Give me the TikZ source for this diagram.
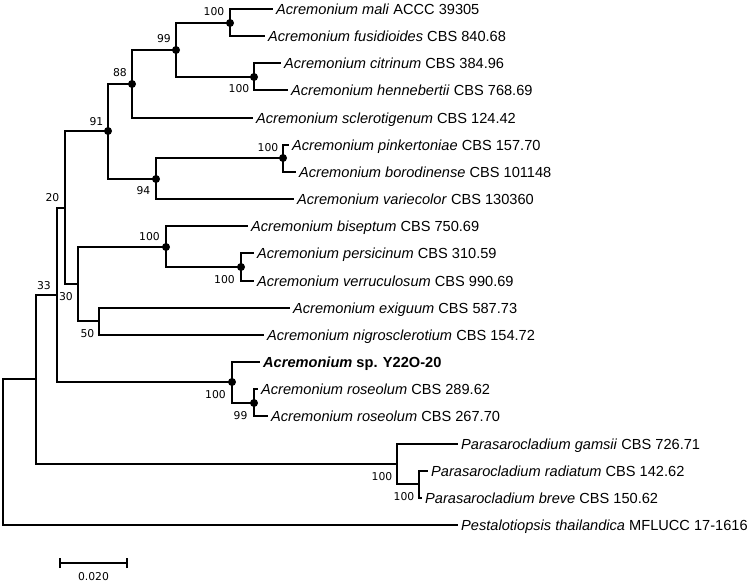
\documentclass[tikz,border=0pt]{standalone}
\usepackage{fontspec}
\setmainfont{Liberation Sans}
\newfontfamily\bsfont{DejaVu Sans}
\begin{document}
\begin{tikzpicture}[x=1pt,y=-1pt,
  branch/.style={line width=1.8pt, line cap=rect},
  leaf/.style={anchor=west, inner xsep=4pt, inner ysep=0pt, text height=10.5pt, text depth=0pt, font=\fontsize{14.6}{16}\selectfont},
  bs/.style={inner sep=0pt, font=\bsfont\fontsize{10.8}{12}\selectfont},
  dotmark/.style={fill=black}
]
\useasboundingbox (0,0) rectangle (755,587);
% internal nodes
\coordinate (R)    at (3,452);
\coordinate (n33)  at (36,379);
\coordinate (n30)  at (57,295);
\coordinate (n20)  at (65,208);
\coordinate (n91)  at (108,131);
\coordinate (n88)  at (132,84);
\coordinate (n99)  at (176,50);
\coordinate (nA)   at (230,23);
\coordinate (nC)   at (254,77);
\coordinate (n94)  at (156,179);
\coordinate (nP)   at (283,158);
\coordinate (nB)   at (78,284);
\coordinate (nBi)  at (166,247);
\coordinate (nPV)  at (241,267);
\coordinate (n50)  at (99,321);
\coordinate (nSp)  at (232,382);
\coordinate (nR)   at (254,403);
\coordinate (nPa)  at (397,464);
\coordinate (nRB)  at (419,484);
% leaves
\node[leaf] (l1)  at (272,9)   {\textit{Acremonium mali} ACCC 39305};
\node[leaf] (l2)  at (264,36)  {\textit{Acremonium fusidioides} CBS 840.68};
\node[leaf] (l3)  at (280,63)  {\textit{Acremonium citrinum} CBS 384.96};
\node[leaf] (l4)  at (287,90)  {\textit{Acremonium hennebertii} CBS 768.69};
\node[leaf] (l5)  at (252,118) {\textit{Acremonium sclerotigenum} CBS 124.42};
\node[leaf] (l6)  at (288,145) {\textit{Acremonium pinkertoniae} CBS 157.70};
\node[leaf] (l7)  at (295,172) {\textit{Acremonium borodinense} CBS 101148};
\node[leaf] (l8)  at (293,199) {\textit{Acremonium variecolor} CBS 130360};
\node[leaf] (l9)  at (247,226) {\textit{Acremonium biseptum} CBS 750.69};
\node[leaf] (l10) at (253,253) {\textit{Acremonium persicinum} CBS 310.59};
\node[leaf] (l11) at (253,281) {\textit{Acremonium verruculosum} CBS 990.69};
\node[leaf] (l12) at (289,308) {\textit{Acremonium exiguum} CBS 587.73};
\node[leaf] (l13) at (263,335) {\textit{Acremonium nigrosclerotium} CBS 154.72};
\node[leaf] (l14) at (259,362) {\textbf{\textit{Acremonium} sp. Y22O-20}};
\node[leaf] (l15) at (257,389) {\textit{Acremonium roseolum} CBS 289.62};
\node[leaf] (l16) at (267,416) {\textit{Acremonium roseolum} CBS 267.70};
\node[leaf] (l17) at (457,444) {\textit{Parasarocladium gamsii} CBS 726.71};
\node[leaf] (l18) at (427,471) {\textit{Parasarocladium radiatum} CBS 142.62};
\node[leaf] (l19) at (421,498) {\textit{Parasarocladium breve} CBS 150.62};
\node[leaf] (l20) at (457,525) {\textit{Pestalotiopsis thailandica} MFLUCC 17-1616};
% branches
\begin{scope}[branch]
\draw (R) |- (n33);   \draw (R) |- (l20.west);
\draw (n33) |- (n30); \draw (n33) |- (nPa);
\draw (n30) |- (n20); \draw (n30) |- (nSp);
\draw (n20) |- (n91); \draw (n20) |- (nB);
\draw (n91) |- (n88); \draw (n91) |- (n94);
\draw (n88) |- (n99); \draw (n88) |- (l5.west);
\draw (n99) |- (nA);  \draw (n99) |- (nC);
\draw (nA) |- (l1.west); \draw (nA) |- (l2.west);
\draw (nC) |- (l3.west); \draw (nC) |- (l4.west);
\draw (n94) |- (nP);  \draw (n94) |- (l8.west);
\draw (nP) |- (l6.west); \draw (nP) |- (l7.west);
\draw (nB) |- (nBi);  \draw (nB) |- (n50);
\draw (nBi) |- (l9.west); \draw (nBi) |- (nPV);
\draw (nPV) |- (l10.west); \draw (nPV) |- (l11.west);
\draw (n50) |- (l12.west); \draw (n50) |- (l13.west);
\draw (nSp) |- (l14.west); \draw (nSp) |- (nR);
\draw (nR) |- (l15.west); \draw (nR) |- (l16.west);
\draw (nPa) |- (l17.west); \draw (nPa) |- (nRB);
\draw (nRB) |- (l18.west); \draw (nRB) |- (l19.west);
\end{scope}
% dots
\foreach \n in {n91,n88,n99,nA,nC,n94,nP,nBi,nPV,nSp,nR}
  \fill[dotmark] (\n) circle (4pt);
% bootstrap values
\node[bs] (bA)   at (214,12)    {100};
\node[bs] (b99)  at (164,39)    {99};
\node[bs] (b88)  at (120,73)    {88};
\node[bs] (bC)   at (239,89)    {100};
\node[bs] (b91)  at (96.5,122)  {91};
\node[bs] (bP)   at (268,148)   {100};
\node[bs] (b94)  at (143.5,191) {94};
\node[bs] (b20)  at (52.5,198)  {20};
\node[bs] (bBi)  at (149.5,237) {100};
\node[bs] (bPV)  at (224.5,280) {100};
\node[bs] (b33)  at (44,285.5)  {33};
\node[bs] (b30)  at (66,297)    {30};
\node[bs] (b50)  at (87.5,333.5){50};
\node[bs] (bSp)  at (215.5,395) {100};
\node[bs] (bR)   at (240.5,416) {99};
\node[bs] (bPa)  at (382,477)   {100};
\node[bs] (bRB)  at (404,497)   {100};
% scale bar
\coordinate (s1) at (60,563);
\coordinate (s2) at (127,563);
\draw[branch, line cap=butt] (s1) -- (s2);
\draw[branch, line cap=butt] ([yshift=-5pt]s1) -- ([yshift=5pt]s1);
\draw[branch, line cap=butt] ([yshift=-5pt]s2) -- ([yshift=5pt]s2);
\node[bs] (sl) at (93.5,576.5) {0.020};
\end{tikzpicture}
\end{document}
